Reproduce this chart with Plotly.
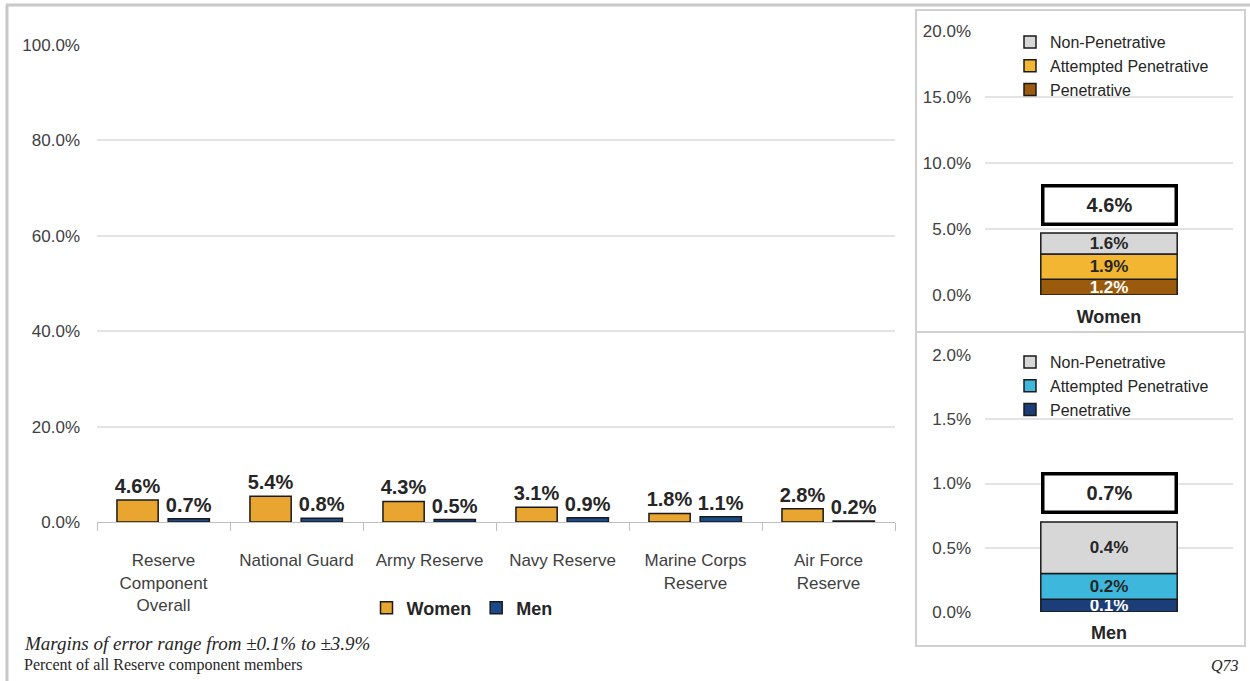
import plotly.graph_objects as go

# ---------------- data ----------------
categories = ["Reserve<br>Component<br>Overall", "National Guard", "Army Reserve",
              "Navy Reserve", "Marine Corps<br>Reserve", "Air Force<br>Reserve"]
women_vals = [4.6, 5.4, 4.3, 3.1, 1.8, 2.8]
men_vals = [0.7, 0.8, 0.5, 0.9, 1.1, 0.2]

segment_names = ["Penetrative", "Attempted Penetrative", "Non-Penetrative"]
women_segments = [1.2, 1.9, 1.6]
men_segments = [0.1, 0.2, 0.4]
women_total = 4.6
men_total = 0.7

left_ticks = [0, 20, 40, 60, 80, 100]
women_ticks = [0, 5, 10, 15, 20]
men_ticks = [0, 0.5, 1.0, 1.5, 2.0]


def pct_labels(vals):
    return [f"{v:.1f}%" for v in vals]


# ---------------- style ----------------
W, H = 1250, 681
FONT = "Liberation Sans, Arial, sans-serif"
SERIF = "Liberation Serif, Times New Roman, serif"
TXT = "#262626"
TICK = "#404040"
GRID = "#E3E3E3"
C_WOMEN = "#E8A52F"
C_MEN = "#1A4A8A"
women_colors = ["#9A5B0C", "#F2B632", "#D7D7D7"]
men_colors = ["#1B3E78", "#3DB8DC", "#D7D7D7"]
women_text = ["white", TXT, TXT]
men_text = ["white", TXT, TXT]


def px_x(p):
    return p / W


def px_y(p):
    return 1 - p / H


fig = go.Figure()

# ---- left grouped chart (overlay mode with explicit offsets) ----
for name, vals, col, off in [("Women", women_vals, C_WOMEN, -0.35),
                             ("Men", men_vals, C_MEN, 0.035)]:
    fig.add_trace(go.Bar(
        x=categories, y=vals, name=name,
        marker=dict(color=col, line=dict(color="#1a1a1a", width=1.5)),
        width=0.31, offset=off,
        texttemplate="%{y:.1f}%", textposition="outside", constraintext="none",
        textfont=dict(family=FONT, size=20, color=TXT, weight="bold"),
        xaxis="x", yaxis="y", legend="legend", cliponaxis=False,
    ))

# ---- right stacked panels ----
def add_stack(label, values, colors, tcolors, xa, ya, leg):
    base = 0.0
    for name, v, c, tc in zip(segment_names, values, colors, tcolors):
        fig.add_trace(go.Bar(
            x=[label], y=[v], base=[base], name=name,
            marker=dict(color=c, line=dict(color="#1a1a1a", width=1.5)),
            width=0.55,
            texttemplate="%{y:.1f}%", textposition="inside",
            insidetextanchor="middle", constraintext="none",
            textfont=dict(family=FONT, size=17, color=tc, weight="bold"),
            xaxis=xa, yaxis=ya, legend=leg,
        ))
        base += v


add_stack("Women", women_segments, women_colors, women_text, "x2", "y2", "legend2")
add_stack("Men", men_segments, men_colors, men_text, "x3", "y3", "legend3")

# ---------------- layout ----------------
tick_font = dict(family=FONT, size=17, color=TICK)

fig.update_layout(
    width=W, height=H,
    margin=dict(l=0, r=0, t=0, b=0, autoexpand=False),
    paper_bgcolor="white", plot_bgcolor="white",
    barmode="overlay",
    showlegend=True,
    font=dict(family=FONT, color=TXT),
    xaxis=dict(
        domain=[px_x(97), px_x(895)], anchor="y",
        type="category", tickson="boundaries",
        ticks="outside", ticklen=8, tickcolor="#BFBFBF",
        showline=True, linecolor="#BFBFBF", linewidth=1,
        showgrid=False, tickfont=dict(family=FONT, size=17, color=TICK),
        ticklabelstandoff=23, fixedrange=True,
    ),
    yaxis=dict(
        domain=[px_y(522), px_y(45)], anchor="x",
        range=[0, 100], tickvals=left_ticks, ticktext=pct_labels(left_ticks),
        showgrid=True, gridcolor=GRID, gridwidth=1.5,
        zeroline=False, showline=False, ticks="",
        tickfont=tick_font, ticklabelstandoff=16,
    ),
    xaxis2=dict(
        domain=[px_x(985), px_x(1233)], anchor="y2",
        type="category", range=[-0.5, 0.5], showgrid=False, ticks="",
        showline=False,
        tickfont=dict(family=FONT, size=18, color=TXT, weight="bold"),
        ticklabelstandoff=9,
    ),
    yaxis2=dict(
        domain=[px_y(295), px_y(31)], anchor="x2",
        range=[0, 20], tickvals=women_ticks, ticktext=pct_labels(women_ticks),
        showgrid=True, gridcolor=GRID, gridwidth=1.5,
        zeroline=False, showline=False, ticks="",
        tickfont=tick_font, ticklabelstandoff=13,
    ),
    xaxis3=dict(
        domain=[px_x(985), px_x(1233)], anchor="y3",
        type="category", range=[-0.5, 0.5], showgrid=False, ticks="",
        showline=False,
        tickfont=dict(family=FONT, size=18, color=TXT, weight="bold"),
        ticklabelstandoff=8,
    ),
    yaxis3=dict(
        domain=[px_y(612), px_y(355)], anchor="x3",
        range=[0, 2], tickvals=men_ticks, ticktext=pct_labels(men_ticks),
        showgrid=True, gridcolor=GRID, gridwidth=1.5,
        zeroline=False, showline=False, ticks="",
        tickfont=tick_font, ticklabelstandoff=13,
    ),
    legend=dict(
        orientation="h", x=px_x(462), xanchor="center",
        y=px_y(608), yanchor="middle",
        font=dict(family=FONT, size=18, color=TXT, weight="bold"),
        bgcolor="rgba(0,0,0,0)", itemclick=False, itemdoubleclick=False,
    ),
    legend2=dict(
        x=px_x(1010), xanchor="left", y=px_y(25), yanchor="top",
        traceorder="reversed", tracegroupgap=0,
        font=dict(family=FONT, size=16, color=TXT),
        bgcolor="rgba(0,0,0,0)",
    ),
    legend3=dict(
        x=px_x(1010), xanchor="left", y=px_y(345), yanchor="top",
        traceorder="reversed", tracegroupgap=0,
        font=dict(family=FONT, size=16, color=TXT),
        bgcolor="rgba(0,0,0,0)",
    ),
)

# totals boxes
for lab, tot, xa, ya in [("Women", women_total, "x2", "y2"), ("Men", men_total, "x3", "y3")]:
    fig.add_annotation(
        x=lab, y=tot, xref=xa, yref=ya,
        text=f"{tot:.1f}%", showarrow=False,
        yanchor="bottom", yshift=8,
        width=128, height=33, borderpad=1,
        bgcolor="white", bordercolor="black", borderwidth=3.5,
        font=dict(family=FONT, size=20, color=TXT, weight="bold"),
    )

# footnotes
fig.add_annotation(
    x=px_x(22), y=px_y(643), xref="paper", yref="paper",
    xanchor="left", yanchor="middle", showarrow=False,
    text="<i>Margins of error range from ±0.1% to ±3.9%</i>",
    font=dict(family=SERIF, size=19, color="#262626"),
)
fig.add_annotation(
    x=px_x(22), y=px_y(665), xref="paper", yref="paper",
    xanchor="left", yanchor="middle", showarrow=False,
    text="Percent of all Reserve component members",
    font=dict(family=SERIF, size=16, color="#262626"),
)
fig.add_annotation(
    x=px_x(1241), y=px_y(665), xref="paper", yref="paper",
    xanchor="right", yanchor="middle", showarrow=False,
    text="<i>Q73</i>",
    font=dict(family=SERIF, size=16, color="#262626"),
)

# frames
frame = "#C8C8C8"
fig.add_shape(type="line", xref="paper", yref="paper",
              x0=px_x(6), x1=1, y0=px_y(5), y1=px_y(5),
              line=dict(color=frame, width=3))
fig.add_shape(type="line", xref="paper", yref="paper",
              x0=px_x(7), x1=px_x(7), y0=px_y(5), y1=0,
              line=dict(color=frame, width=3))
panel = "#D0D0D0"
fig.add_shape(type="rect", xref="paper", yref="paper",
              x0=px_x(916), x1=px_x(1245), y0=px_y(332), y1=px_y(10),
              line=dict(color=panel, width=2))
fig.add_shape(type="rect", xref="paper", yref="paper",
              x0=px_x(916), x1=px_x(1245), y0=px_y(646), y1=px_y(332),
              line=dict(color=panel, width=2))

fig.write_html("out.html", config={"displayModeBar": False},
               post_script="document.body.style.margin='0';document.body.style.overflow='hidden';")
